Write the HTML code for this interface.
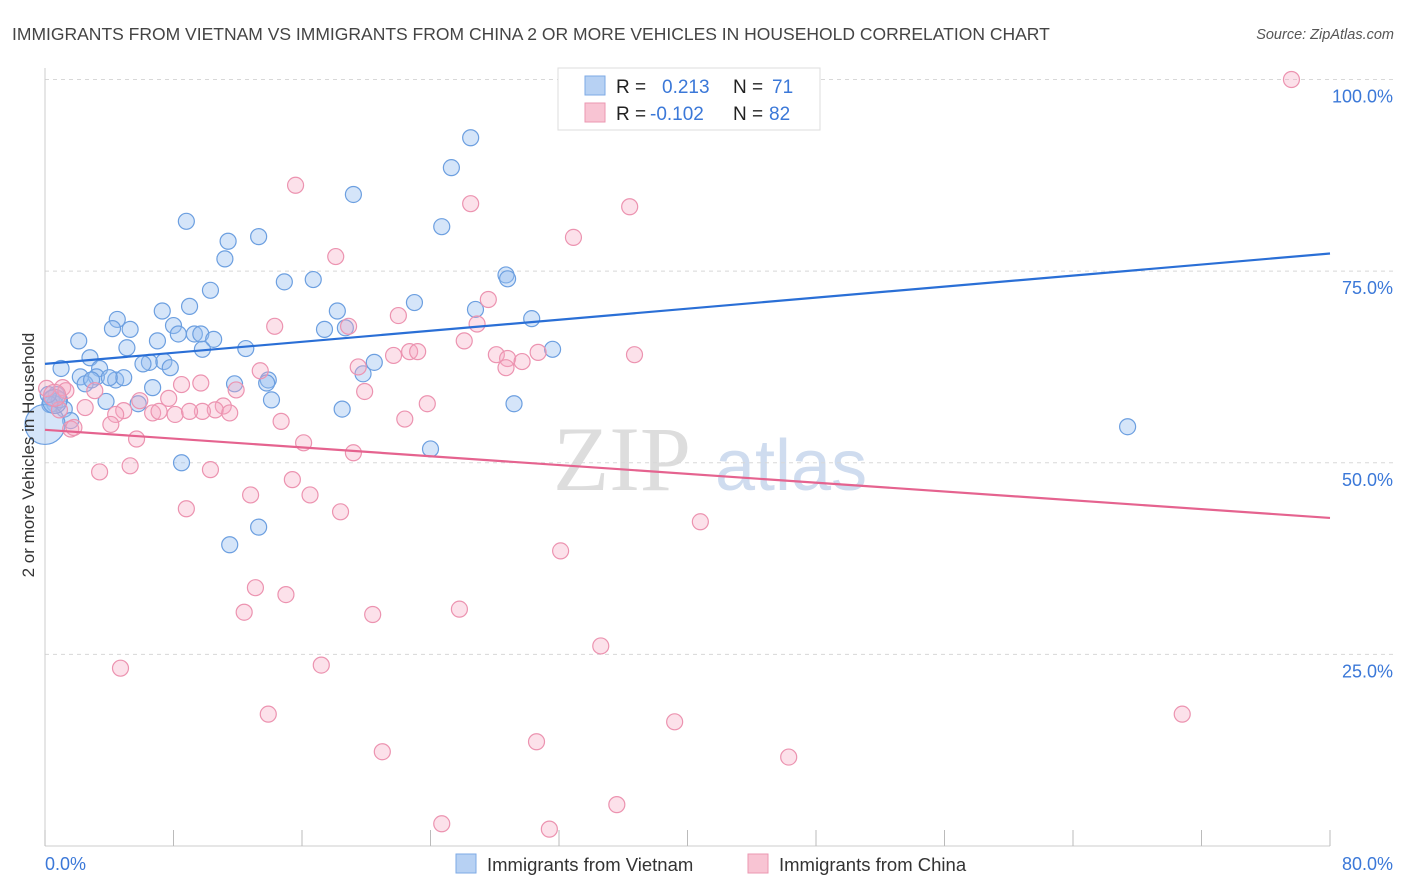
<!DOCTYPE html>
<html><head><meta charset="utf-8"><style>
body{margin:0;background:#fff;font-family:"Liberation Sans",sans-serif;}
#wrap{position:relative;width:1406px;height:892px;overflow:hidden;}
</style></head><body>
<div id="wrap">
<svg id="chart" width="1406" height="892" xmlns="http://www.w3.org/2000/svg">
<text x="12" y="40" font-size="17.5" fill="#444">IMMIGRANTS FROM VIETNAM VS IMMIGRANTS FROM CHINA 2 OR MORE VEHICLES IN HOUSEHOLD CORRELATION CHART</text>
<text x="1394" y="39" font-size="14.5" fill="#555" font-style="italic" text-anchor="end">Source: ZipAtlas.com</text>
<g>
<text x="553" y="490" font-size="92" fill="#ddd" font-family="Liberation Serif,serif">ZIP</text>
<text x="715" y="490" font-size="72" fill="#cfdcef">atlas</text>
</g>
<g id="grid"></g>
<g id="axes"></g>
<g id="points"></g>
<g id="trends"></g>
<text x="34" y="455" font-size="17" fill="#333" text-anchor="middle" transform="rotate(-90 34 455)">2 or more Vehicles in Household</text>
<g>
<rect x="558" y="68" width="262" height="62" fill="#fff" stroke="#ddd"/>
<rect x="585" y="76" width="20" height="19" fill="#b7d1f3" stroke="#7eaae6"/>
<rect x="585" y="103" width="20" height="19" fill="#f8c4d3" stroke="#eb97b1"/>
<text x="616" y="93" font-size="19" fill="#222">R = <tspan x="662" fill="#3b78d8">0.213</tspan></text>
<text x="733" y="93" font-size="19" fill="#222">N = <tspan x="772" fill="#3b78d8">71</tspan></text>
<text x="616" y="120" font-size="19" fill="#222">R = <tspan x="650" fill="#3b78d8">-0.102</tspan></text>
<text x="733" y="120" font-size="19" fill="#222">N = <tspan x="769" fill="#3b78d8">82</tspan></text>
</g>
<g>
<rect x="456" y="854" width="20" height="19" fill="#b7d1f3" stroke="#7eaae6"/>
<text x="487" y="871" font-size="18.5" fill="#333">Immigrants from Vietnam</text>
<rect x="748" y="854" width="20" height="19" fill="#f8c4d3" stroke="#eb97b1"/>
<text x="779" y="871" font-size="18.5" fill="#333">Immigrants from China</text>
</g>
</svg>
</div>
<script>
const blueX=[26.5,25.3,19.2,24.7,8.8,13.3,11.4,11.2,28.7,28.8,14.9,16.7,10.3,23.0,9.0,7.3,18.2,26.8,4.5,30.3,4.2,5.3,8.0,8.3,9.3,9.7,17.4,18.7,2.1,10.5,5.1,7.0,9.8,12.5,31.6,2.8,6.5,6.1,7.4,7.8,20.5,1.0,3.4,2.2,3.2,4.4,4.9,19.8,11.8,13.9,13.8,6.7,2.5,0.7,0.4,0.6,3.8,5.8,14.1,29.2,18.5,1.2,1.6,67.4,24.0,8.5,13.3,11.5,0.9,0.3,2.9,0.2,4.0,0.0,0.6];
const blueY=[92.4,88.5,85.0,80.8,81.5,79.5,78.9,76.6,74.5,74.0,73.6,73.9,72.5,70.9,70.4,69.8,69.8,70.0,68.7,68.8,67.5,67.4,67.9,66.8,66.8,66.8,67.4,67.6,65.9,66.1,65.0,65.9,64.8,64.9,64.8,63.7,63.1,62.9,63.2,62.4,63.1,62.3,62.3,61.2,61.2,60.8,61.1,61.6,60.3,60.8,60.4,59.8,60.3,58.9,58.4,57.7,58.0,57.7,58.2,57.7,57.0,57.0,55.5,54.7,51.8,50.0,41.6,39.3,58.2,57.6,60.8,58.9,61.1,55.0,58.0];
const blueR=[8,8,8,8,8,8,8,8,8,8,8,8,8,8,8,8,8,8,8,8,8,8,8,8,8,8,8,8,8,8,8,8,8,8,8,8,8,8,8,8,8,8,8,8,8,8,8,8,8,8,8,8,8,8,8,8,8,8,8,8,8,8,8,8,8,8,8,8,8,8,8,8,8,20,12];
const pinkX=[77.6,15.6,26.5,36.4,32.9,18.1,27.6,26.9,14.3,18.9,22.0,26.1,36.7,28.1,28.8,30.7,29.7,22.7,23.2,21.7,19.5,28.7,13.4,1.1,0.1,1.3,8.5,9.7,19.9,11.9,3.1,5.9,23.8,11.1,7.7,10.6,9.8,0.9,2.5,4.9,6.7,8.1,9.0,11.5,4.4,7.1,14.7,22.4,4.1,1.6,1.8,5.7,16.1,19.2,3.4,5.3,10.3,15.4,12.8,16.5,8.8,18.4,40.8,32.1,13.1,15.0,12.4,25.8,20.4,34.6,4.7,17.2,13.9,39.2,70.8,30.6,21.0,46.3,35.6,24.7,31.4,0.6];
const pinkY=[100.0,86.2,83.8,83.4,79.4,76.9,71.3,68.1,67.8,67.8,69.2,65.9,64.1,64.1,63.6,64.4,63.2,64.5,64.5,64.0,62.5,62.4,62.0,59.8,59.7,59.4,60.2,60.4,59.3,59.5,59.4,58.1,57.7,57.4,58.4,56.9,56.7,56.9,57.2,56.8,56.5,56.3,56.7,56.5,56.3,56.7,55.4,55.7,55.0,54.4,54.6,53.1,52.6,51.3,48.8,49.6,49.1,47.8,45.8,45.8,44.0,43.6,42.3,38.5,33.7,32.8,30.5,30.9,30.2,26.1,23.2,23.6,17.2,16.2,17.2,13.6,12.3,11.6,5.4,2.9,2.2,58.8];
const pinkR=pinkX.map((_,i)=>i===pinkX.length-1?11:8);
const trendX=[0,80];
const blueTrend=[62.9,77.3];
const pinkTrend=[54.3,42.8];
const yTicks=[25,50,75,100];
const yTickLabels=["25.0%","50.0%","75.0%","100.0%"];
const xTicks=[0,8,16,24,32,40,48,56,64,72,80];

const NS="http://www.w3.org/2000/svg";
const X0=45,X1=1330,Y0=846,Y100=79.5;
const sx=v=>X0+(v/80)*(X1-X0);
const sy=v=>Y0-(v/100)*(Y0-Y100);
function mk(tag,attrs,parent){const e=document.createElementNS(NS,tag);for(const k in attrs)e.setAttribute(k,attrs[k]);document.getElementById(parent).appendChild(e);return e;}

yTicks.forEach((t,i)=>{
 const l=mk('line',{x1:X0,x2:1394,y1:sy(t),y2:sy(t),stroke:'#d8d8d8','stroke-dasharray':'4 4'},'grid');
 
 
 const tx=mk('text',{x:1393,y:sy(t)+23,'font-size':18,fill:'#3b78d8','text-anchor':'end'},'axes');
 tx.textContent=yTickLabels[i];
 
 
});
const ax=mk('line',{x1:X0,x2:X0,y1:68,y2:Y0,stroke:'#ccc'},'axes');


const bx=mk('line',{x1:X0,x2:X1,y1:Y0,y2:Y0,stroke:'#ccc'},'axes');


xTicks.forEach(t=>{
 const l=mk('line',{x1:sx(t),x2:sx(t),y1:Y0-16,y2:Y0,stroke:'#bbb'},'axes');
 
 
});
const xl0=mk('text',{x:45,y:870,'font-size':18,fill:'#3b78d8'},'axes');
xl0.textContent='0.0%';


const xl1=mk('text',{x:1393,y:870,'font-size':18,fill:'#3b78d8','text-anchor':'end'},'axes');
xl1.textContent='80.0%';



blueX.forEach((v,i)=>{
 const c=mk('circle',{cx:sx(v),cy:sy(blueY[i]),r:blueR[i],fill:'rgba(150,190,240,0.4)',stroke:'#6c9fe0','stroke-width':1.2},'points');
 
 
});
pinkX.forEach((v,i)=>{
 const c=mk('circle',{cx:sx(v),cy:sy(pinkY[i]),r:pinkR[i],fill:'rgba(246,170,195,0.35)',stroke:'#ec93b0','stroke-width':1.2},'points');
 
 
});
const bt=mk('line',{x1:sx(trendX[0]),x2:sx(trendX[1]),y1:sy(blueTrend[0]),y2:sy(blueTrend[1]),stroke:'#2a6fd6','stroke-width':2.2},'trends');


const pt=mk('line',{x1:sx(trendX[0]),x2:sx(trendX[1]),y1:sy(pinkTrend[0]),y2:sy(pinkTrend[1]),stroke:'#e5638f','stroke-width':2.2},'trends');


</script>
</body></html>
